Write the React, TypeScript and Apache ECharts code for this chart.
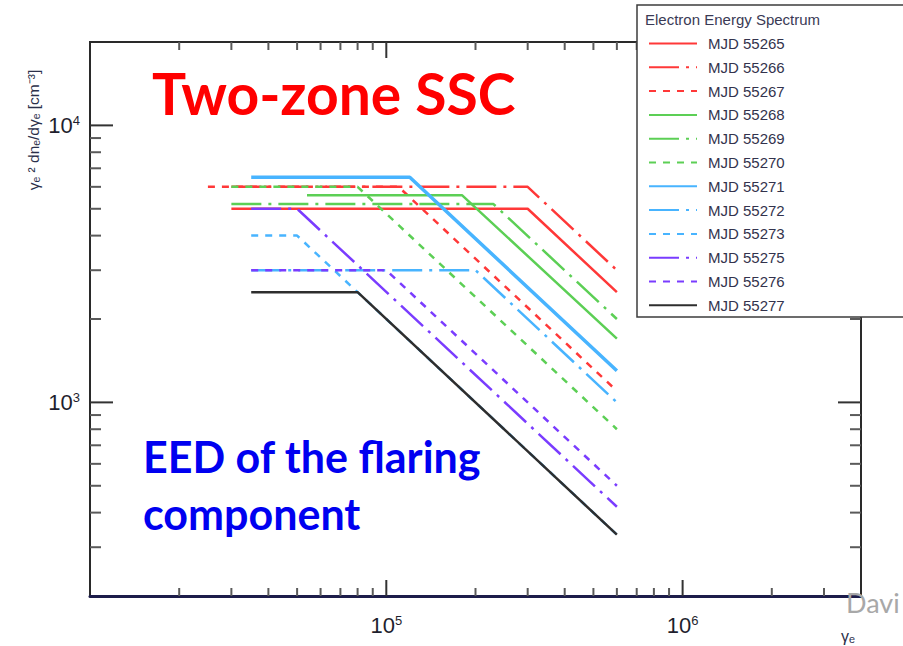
import React, { useEffect, useRef } from "react";
import * as echarts from "echarts";

// Electron energy distributions of the flaring component, one broken power law per night
const SERIES_NAMES = [
  "MJD 55265", "MJD 55266", "MJD 55267", "MJD 55268", "MJD 55269", "MJD 55270",
  "MJD 55271", "MJD 55272", "MJD 55273", "MJD 55275", "MJD 55276", "MJD 55277",
];
const SERIES_COLORS = [
  "#ff3838", "#ff3838", "#ff3838", "#5ccf55", "#5ccf55", "#5ccf55",
  "#48b4ff", "#48b4ff", "#48b4ff", "#7a3cff", "#7a3cff", "#2e2e2e",
];
const DASH_DOT = [30, 7, 3, 7];
const SHORT_DASH = [7, 7];
const SERIES_DASH: (string | number[])[] = [
  "solid", DASH_DOT, SHORT_DASH, "solid", DASH_DOT, SHORT_DASH,
  "solid", DASH_DOT, SHORT_DASH, DASH_DOT, SHORT_DASH, "solid",
];
const SERIES_WIDTH = [2.5, 2.5, 2.5, 2.5, 2.5, 2.5, 3.5, 2.5, 2.5, 2.5, 2.5, 2.5];

// gamma_e where each spectrum starts, where it breaks, and where it ends
const GAMMA_START = [3e4, 3e4, 2.5e4, 5.4e4, 3e4, 3e4, 3.5e4, 3.5e4, 3.5e4, 3.5e4, 3.5e4, 3.5e4];
const GAMMA_BREAK = [3e5, 3e5, 1.1e5, 1.8e5, 2.3e5, 8e4, 1.2e5, 2e5, 5e4, 5e4, 1e5, 8e4];
const GAMMA_END = [6e5, 6e5, 6e5, 6e5, 6e5, 6e5, 6e5, 6e5, 6e5, 6e5, 6e5, 6e5];
// gamma_e^2 dn/dgamma_e on the plateau and at the high-energy end
const PLATEAU = [5000, 6000, 6000, 5600, 5200, 6000, 6500, 3000, 4000, 5000, 3000, 2500];
const END_VALUE = [2500, 3000, 1100, 1700, 2000, 800, 1300, 1000, 333, 420, 500, 333];

// axis decorations
const X_LABEL_EXPONENTS = [5, 6];
const Y_LABEL_EXPONENTS = [3, 4];
const X_MAJOR_TICKS = [1e5, 1e6];
const X_MINOR_TICKS = [
  2e4, 3e4, 4e4, 5e4, 6e4, 7e4, 8e4, 9e4,
  2e5, 3e5, 4e5, 5e5, 6e5, 7e5, 8e5, 9e5,
  2e6, 3e6,
];
const Y_MAJOR_TICKS = [1e3, 1e4];
const Y_MINOR_TICKS = [
  300, 400, 500, 600, 700, 800, 900,
  2000, 3000, 4000, 5000, 6000, 7000, 8000, 9000,
];

function powerLabel(shown: number[]) {
  return (v: number) => {
    const e = Math.log10(v);
    const r = Math.round(e);
    if (Math.abs(e - r) > 1e-6 || !shown.includes(r)) return "";
    return `{b|10}{s|${r}}`;
  };
}

const labelRich = {
  b: { fontSize: 22, fontFamily: "Liberation Sans", color: "#1f1f2e" },
  s: { fontSize: 13, fontFamily: "Liberation Sans", color: "#1f1f2e", verticalAlign: "top" as const },
};

export default function App() {
  const ref = useRef<HTMLDivElement>(null);

  useEffect(() => {
    if (!ref.current) return;
    const chart = echarts.init(ref.current, undefined, { renderer: "svg" });

    const lineSeries = SERIES_NAMES.map((name, i) => ({
      name,
      type: "line" as const,
      symbol: "none",
      showSymbol: false,
      silent: true,
      z: 2 + i * 0.01,
      data: [
        [GAMMA_START[i], PLATEAU[i]],
        [GAMMA_BREAK[i], PLATEAU[i]],
        [GAMMA_END[i], END_VALUE[i]],
      ],
      lineStyle: { color: SERIES_COLORS[i], type: SERIES_DASH[i] as any, width: SERIES_WIDTH[i] },
      itemStyle: { color: SERIES_COLORS[i] },
    }));

    const tickStyle = (major: boolean) => ({
      stroke: major ? "#333333" : "#5a5a5a",
      lineWidth: 2,
    });

    // inward ticks on bottom and top edges
    const xTickSeries = {
      type: "custom" as const,
      silent: true,
      z: 4,
      encode: { x: 0, y: 1 },
      data: [
        ...X_MAJOR_TICKS.map((v) => [v, 1000, 16, 1]),
        ...X_MINOR_TICKS.map((v) => [v, 1000, 8, 0]),
      ],
      renderItem: (params: any, api: any) => {
        const cs = params.coordSys;
        const px = api.coord([api.value(0), 1000])[0];
        const len = api.value(2);
        const major = api.value(3) === 1;
        const bottom = cs.y + cs.height;
        return {
          type: "group",
          children: [
            { type: "line", shape: { x1: px, y1: bottom, x2: px, y2: bottom - len }, style: tickStyle(major) },
            { type: "line", shape: { x1: px, y1: cs.y, x2: px, y2: cs.y + len }, style: tickStyle(major) },
          ],
        };
      },
    };

    // inward ticks on left and right edges
    const yTickSeries = {
      type: "custom" as const,
      silent: true,
      z: 4,
      encode: { x: 0, y: 1 },
      data: [
        ...Y_MAJOR_TICKS.map((v) => [1e5, v, 23, 1]),
        ...Y_MINOR_TICKS.map((v) => [1e5, v, 11, 0]),
      ],
      renderItem: (params: any, api: any) => {
        const cs = params.coordSys;
        const py = api.coord([1e5, api.value(1)])[1];
        const len = api.value(2);
        const major = api.value(3) === 1;
        const right = cs.x + cs.width;
        return {
          type: "group",
          children: [
            { type: "line", shape: { x1: cs.x, y1: py, x2: cs.x + len, y2: py }, style: tickStyle(major) },
            { type: "line", shape: { x1: right, y1: py, x2: right - len, y2: py }, style: tickStyle(major) },
          ],
        };
      },
    };

    chart.setOption({
      animation: false,
      backgroundColor: "#ffffff",
      grid: {
        left: 90,
        right: 42,
        top: 42,
        bottom: 50,
        show: true,
        borderColor: "#2a2a2a",
        borderWidth: 2,
        backgroundColor: "transparent",
      },
      xAxis: {
        type: "log",
        logBase: 10,
        min: 1e4,
        max: 4e6,
        axisLine: { show: true, lineStyle: { color: "#1d1d4a", width: 3 } },
        axisTick: { show: false },
        minorTick: { show: false },
        splitLine: { show: false },
        axisLabel: { margin: 18, formatter: powerLabel(X_LABEL_EXPONENTS), rich: labelRich },
      },
      yAxis: {
        type: "log",
        logBase: 10,
        min: 200,
        max: 20000,
        axisLine: { show: true, lineStyle: { color: "#2a2a2a", width: 2 } },
        axisTick: { show: false },
        minorTick: { show: false },
        splitLine: { show: false },
        axisLabel: { margin: 10, formatter: powerLabel(Y_LABEL_EXPONENTS), rich: labelRich },
      },
      legend: {
        data: SERIES_NAMES,
        orient: "vertical",
        left: 648,
        top: 36,
        padding: 0,
        itemWidth: 48,
        itemHeight: 14,
        itemGap: 8.8,
        selectedMode: false,
        z: 30,
        itemStyle: { color: "transparent", borderColor: "transparent", borderWidth: 0, opacity: 0 },
        textStyle: {
          fontSize: 15,
          fontFamily: "Liberation Sans",
          color: "#33334d",
          padding: [0, 0, 0, 6],
        },
      },
      graphic: [
        {
          type: "rect",
          z: 20,
          shape: { x: 637, y: 5, width: 300, height: 312 },
          style: { fill: "#ffffff", stroke: "#3c3c3c", lineWidth: 1.5 },
        },
        {
          type: "text",
          z: 21,
          x: 645,
          y: 19,
          style: {
            text: "Electron Energy Spectrum",
            fontSize: 15,
            fontFamily: "Liberation Sans",
            fill: "#3a3a55",
            align: "left",
            verticalAlign: "middle",
          },
        },
        {
          type: "text",
          z: 21,
          x: 152,
          y: 93,
          style: {
            text: "Two-zone SSC",
            fontSize: 57,
            fontWeight: "bold",
            fontFamily: "Lato",
            fill: "#ff0000",
            align: "left",
            verticalAlign: "middle",
          },
        },
        {
          type: "text",
          z: 21,
          x: 143,
          y: 456,
          style: {
            text: "EED of the flaring",
            fontSize: 43,
            fontWeight: "bold",
            fontFamily: "Lato",
            fill: "#0000f0",
            align: "left",
            verticalAlign: "middle",
          },
        },
        {
          type: "text",
          z: 21,
          x: 143,
          y: 513,
          style: {
            text: "component",
            fontSize: 43,
            fontWeight: "bold",
            fontFamily: "Lato",
            fill: "#0000f0",
            align: "left",
            verticalAlign: "middle",
          },
        },
        {
          type: "text",
          z: 21,
          x: 33,
          y: 130,
          rotation: Math.PI / 2,
          style: {
            text: "γₑ ² dnₑ/dγₑ [cm⁻³]",
            fontSize: 15.5,
            fontFamily: "Liberation Sans",
            fill: "#2a2f4a",
            align: "center",
            verticalAlign: "middle",
          },
        },
        {
          type: "text",
          z: 21,
          x: 848,
          y: 636,
          style: {
            text: "γₑ",
            fontSize: 16,
            fontFamily: "Liberation Sans",
            fill: "#2a2f4a",
            align: "center",
            verticalAlign: "middle",
          },
        },
        {
          type: "text",
          z: 25,
          x: 846,
          y: 602,
          style: {
            text: "Davi",
            fontSize: 27,
            fontFamily: "Lato",
            fill: "#a8a8a8",
            align: "left",
            verticalAlign: "middle",
          },
        },
      ],
      series: [...lineSeries, xTickSeries, yTickSeries],
    });

    return () => chart.dispose();
  }, []);

  return (
    <div
      ref={ref}
      style={{ position: "fixed", left: 0, top: 0, width: 903, height: 646, background: "#fff" }}
    />
  );
}
